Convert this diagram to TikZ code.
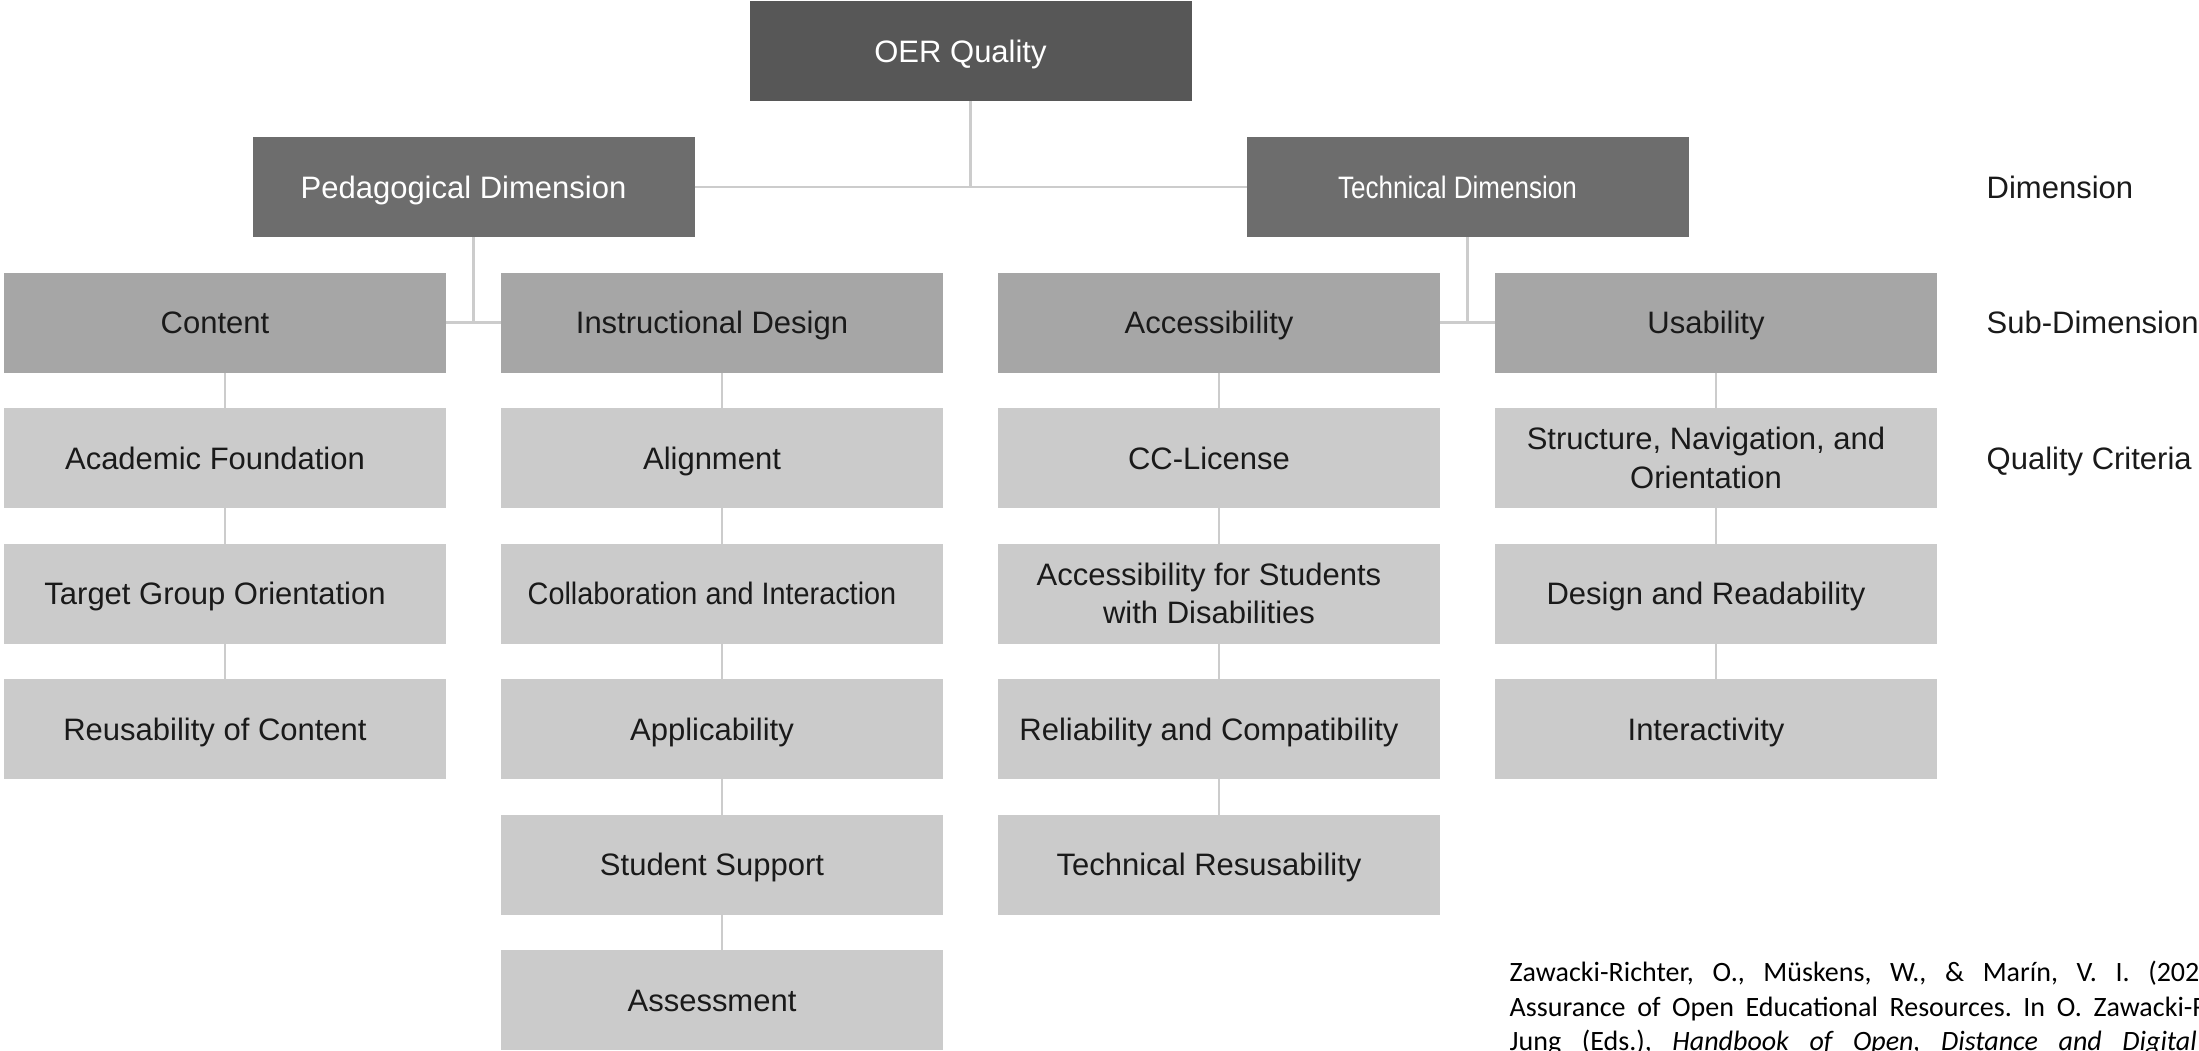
\documentclass[tikz,border=0pt]{standalone}
\usepackage{fontspec}
\setmainfont{Liberation Sans}
\newfontfamily\narrowfont[FakeStretch=0.84]{Liberation Sans}
\newfontfamily\slimfont[FakeStretch=0.93]{Liberation Sans}
\newfontfamily\citefont{Carlito}
\usetikzlibrary{positioning}
\definecolor{oergray}{HTML}{575757}
\definecolor{dimgray}{HTML}{6D6D6D}
\definecolor{subgray}{HTML}{A6A6A6}
\definecolor{critgray}{HTML}{CBCBCB}
\definecolor{linkgray}{HTML}{CCCCCC}
\definecolor{inkgray}{HTML}{1A1A1A}

\begin{document}
\begin{tikzpicture}
\useasboundingbox (0,0) rectangle (21.99,-10.5);
\tikzset{Box/.style ={shape=rectangle, inner sep=0, outer sep=0, minimum width=4.42cm, minimum height=1cm,
    align=center, text height=0.225cm, text depth=0pt, font=\fontsize{8.82}{10.95}\selectfont,
    execute at begin node={\hspace*{-0.1cm}}, execute at end node={\hspace*{0.1cm}}},
  TwoLines/.style ={text height=, text depth=},
  TopBox/.style ={Box, fill=oergray, text=white},
  DimBox/.style ={Box, fill=dimgray, text=white},
  SubBox/.style ={Box, fill=subgray, text=inkgray},
  CritBox/.style ={Box, fill=critgray, text=inkgray},
  LinkStyle/.style ={draw=linkgray, line width=0.75pt},
  LevelStyle/.style ={anchor=west, inner sep=0, text height=0.225cm, text depth=0pt,
    text=inkgray, font=\fontsize{8.82}{10.95}\selectfont},
  node distance=0.355cm and 0.55cm}
% top and dimension level
\node[TopBox] (oer) at (9.705,-0.51) {OER Quality};
\node[DimBox] (ped) at (4.735,-1.87) {Pedagogical Dimension};
\node[DimBox] (tech) at (14.675,-1.87) {\narrowfont Technical Dimension};
% sub-dimensions
\node[SubBox] (content) at (2.25,-3.225) {Content};
\node[SubBox, right=of content] (instr) {Instructional Design};
\node[SubBox, right=of instr] (access) {Accessibility};
\node[SubBox, right=of access] (usab) {Usability};
% quality criteria
\node[CritBox, below=of content] (found) {Academic Foundation};
\node[CritBox, below=of found] (target) {Target Group Orientation};
\node[CritBox, below=of target] (reuse) {Reusability of Content};
\node[CritBox, below=of instr] (align) {Alignment};
\node[CritBox, below=of align] (collab) {\slimfont Collaboration and Interaction};
\node[CritBox, below=of collab] (apply) {Applicability};
\node[CritBox, below=of apply] (support) {Student Support};
\node[CritBox, below=of support] (assess) {Assessment};
\node[CritBox, below=of access] (license) {CC-License};
\node[CritBox, TwoLines, below=of license] (disab) {Accessibility for Students\\with Disabilities};
\node[CritBox, below=of disab] (compat) {Reliability and Compatibility};
\node[CritBox, below=of compat] (techreuse) {Technical Resusability};
\node[CritBox, TwoLines, below=of usab] (navig) {Structure, Navigation, and\\Orientation};
\node[CritBox, below=of navig] (design) {Design and Readability};
\node[CritBox, below=of design] (interact) {Interactivity};
% level labels
\node[LevelStyle] (lvldim) at (19.86,-1.87) {Dimension};
\node[LevelStyle] (lvlsub) at (19.86,-3.225) {Sub-Dimension};
\node[LevelStyle] (lvlcrit) at (19.86,-4.58) {Quality Criteria};
% connectors
\draw[LinkStyle] (oer.south) -- (oer.south |- ped.east);
\draw[LinkStyle] (ped.east) -- (tech.west);
\draw[LinkStyle] (ped.south) -- (ped.south |- content.east);
\draw[LinkStyle] (content.east) -- (instr.west);
\draw[LinkStyle] (tech.south) -- (tech.south |- access.east);
\draw[LinkStyle] (access.east) -- (usab.west);
\foreach \a/\b in {content/found, found/target, target/reuse,
    instr/align, align/collab, collab/apply, apply/support, support/assess,
    access/license, license/disab, disab/compat, compat/techreuse,
    usab/navig, navig/design, design/interact}
  \draw[LinkStyle] (\a.south) -- (\b.north);
% reference
\begin{scope}
\clip (0,0) rectangle (21.99,-10.5);
\node[anchor=north west, inner sep=0, text width=8.2cm, align=justify, text=black,
  font=\citefont\fontsize{7.97}{9.82}\selectfont] (cite) at (15.09,-9.57)
  {\frenchspacing\hyphenpenalty=10000\strut Zawacki-Richter, O., Müskens, W., \& Marín, V. I. (2023). Quality\linebreak
  Assurance of Open Educational Resources. In O. Zawacki-Richter \& I.\linebreak
  Jung (Eds.), \textit{Handbook of Open, Distance and Digital Education}\linebreak};
\end{scope}
\end{tikzpicture}
\end{document}
